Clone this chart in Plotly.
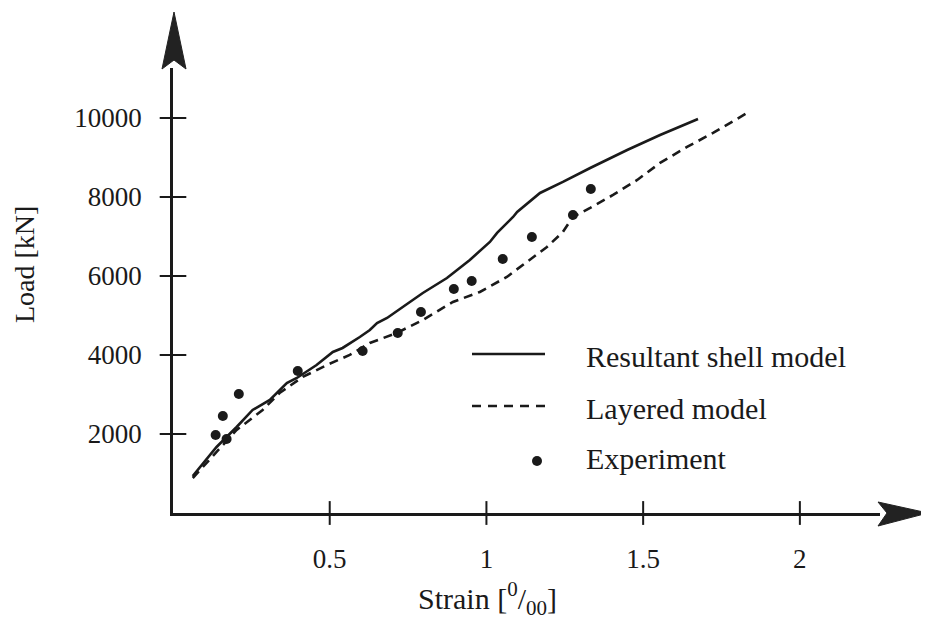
import plotly.graph_objects as go

# ---- data ----
shell_strain = [0.063, 0.079, 0.139, 0.203, 0.254, 0.309, 0.363, 0.395, 0.458, 0.510, 0.541,
                0.596, 0.628, 0.651, 0.683, 0.733, 0.797, 0.874, 0.947, 1.011, 1.034, 1.085,
                1.098, 1.171, 1.244, 1.331, 1.449, 1.554, 1.675]
shell_load = [937, 1089, 1671, 2177, 2608, 2861, 3292, 3418, 3747, 4077, 4178,
              4456, 4634, 4811, 4937, 5216, 5570, 5950, 6406, 6862, 7090, 7495,
              7621, 8102, 8381, 8735, 9191, 9571, 9976]

layer_strain = [0.063, 0.203, 0.286, 0.340, 0.414, 0.491, 0.564, 0.628, 0.714, 0.797, 0.893,
                0.979, 1.065, 1.138, 1.193, 1.244, 1.276, 1.331, 1.404, 1.481, 1.554, 1.640,
                1.723, 1.832]
layer_load = [886, 2102, 2608, 3038, 3444, 3747, 4001, 4304, 4558, 4887, 5343,
              5596, 5976, 6406, 6735, 7115, 7495, 7723, 8052, 8432, 8862, 9267,
              9622, 10128]

exp_strain = [0.136, 0.171, 0.159, 0.210, 0.398, 0.605, 0.717, 0.791, 0.896, 0.953, 1.052,
              1.145, 1.276, 1.333]
exp_load = [1975, 1874, 2456, 3013, 3595, 4102, 4558, 5089, 5672, 5874, 6431,
            6988, 7546, 8204]

x_ticks = [0.5, 1, 1.5, 2]
x_tick_labels = ["0.5", "1", "1.5", "2"]
y_ticks = [2000, 4000, 6000, 8000, 10000]
y_tick_labels = ["2000", "4000", "6000", "8000", "10000"]

series_names = ["Resultant shell model", "Layered model", "Experiment"]
x_title = "Strain [<sup>0</sup>/<sub>00</sub>]"
y_title = "Load [kN]"

# ---- layout geometry (screen pixels; page body adds an 8px offset) ----
OFF = 8
W, H = 929 - OFF, 634 - OFF
L, R, T, B = 173, 880, 68, 513  # plot area in screen pixels
FONT = "Liberation Serif, Times New Roman, serif"
INK = "#1a1a1a"
TXT = 30
NUM = 27


def px(x):
    return (x - L) / (R - L)


def py(y):
    return (B - y) / (B - T)


fig = go.Figure()

fig.add_trace(go.Scatter(x=shell_strain, y=shell_load, mode="lines", name=series_names[0],
                         line=dict(color=INK, width=2.6), showlegend=False))
fig.add_trace(go.Scatter(x=layer_strain, y=layer_load, mode="lines", name=series_names[1],
                         line=dict(color=INK, width=2.6, dash="9px,6px"), showlegend=False))
fig.add_trace(go.Scatter(x=exp_strain, y=exp_load, mode="markers", name=series_names[2],
                         marker=dict(color=INK, size=10), showlegend=False))

# crossing tick marks
fig.add_trace(go.Scatter(x=x_ticks, y=[0] * len(x_ticks), mode="markers", hoverinfo="skip",
                         marker=dict(symbol="line-ns", size=17, line=dict(color=INK, width=2)),
                         showlegend=False, cliponaxis=False))
fig.add_trace(go.Scatter(x=[0] * len(y_ticks), y=y_ticks, mode="markers", hoverinfo="skip",
                         marker=dict(symbol="line-ew", size=19, line=dict(color=INK, width=2)),
                         showlegend=False, cliponaxis=False))

xmax = (R - 173.3) / 313.3
ymax = (B - T) / 79 * 2000

fig.update_layout(
    width=W, height=H,
    margin=dict(l=L - OFF, r=929 - R, t=T - OFF, b=634 - B, autoexpand=False),
    paper_bgcolor="white", plot_bgcolor="white",
    font=dict(family=FONT, size=TXT, color=INK),
    xaxis=dict(range=[0, xmax], tickvals=x_ticks, ticktext=x_tick_labels, showgrid=False,
               zeroline=False, showline=True, linecolor=INK, linewidth=2.5, ticks="",
               ticklabelstandoff=20, tickfont=dict(size=NUM), automargin=False),
    yaxis=dict(range=[0, ymax], tickvals=y_ticks, ticktext=y_tick_labels, showgrid=False,
               zeroline=False, showline=True, linecolor=INK, linewidth=2.5, ticks="",
               ticklabelstandoff=23, tickfont=dict(size=NUM), automargin=False),
)

# axis titles
fig.add_annotation(text=x_title, xref="paper", yref="paper", x=px(487), y=py(598),
                   xanchor="center", yanchor="middle", showarrow=False,
                   font=dict(family=FONT, size=TXT, color=INK))
fig.add_annotation(text=y_title, xref="paper", yref="paper", x=px(24), y=py(265),
                   xanchor="center", yanchor="middle", showarrow=False, textangle=-90,
                   font=dict(family=FONT, size=28, color=INK))

# arrow heads
fig.add_shape(type="path", xref="paper", yref="paper",
              path=f"M {px(174)},{py(12)} L {px(186)},{py(69)} L {px(174)},{py(60)} L {px(162)},{py(69)} Z",
              fillcolor="#222", line=dict(color="#222", width=1), layer="above")
fig.add_shape(type="path", xref="paper", yref="paper",
              path=f"M {px(928)},{py(513)} L {px(878)},{py(502)} L {px(887)},{py(513)} L {px(878)},{py(526)} Z",
              fillcolor="#222", line=dict(color="#222", width=1), layer="above")

# hand-drawn legend
fig.add_shape(type="line", xref="paper", yref="paper", x0=px(472), x1=px(545), y0=py(354), y1=py(354),
              line=dict(color=INK, width=2.6))
fig.add_shape(type="line", xref="paper", yref="paper", x0=px(472), x1=px(545), y0=py(406), y1=py(406),
              line=dict(color=INK, width=2.6, dash="9px,7px"))
fig.add_shape(type="circle", xref="paper", yref="paper", x0=px(532), x1=px(542), y0=py(456), y1=py(466),
              fillcolor=INK, line=dict(color=INK, width=0))
for name, yy in zip(series_names, [356, 408, 458]):
    fig.add_annotation(text=name, xref="paper", yref="paper", x=px(584), y=py(yy),
                       xanchor="left", yanchor="middle", showarrow=False,
                       font=dict(family=FONT, size=TXT, color=INK))

fig.write_html("out.html")
